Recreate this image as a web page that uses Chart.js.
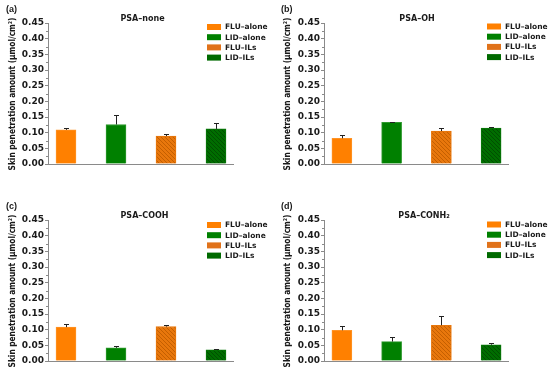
<!DOCTYPE html>
<html>
<head>
<meta charset="utf-8">
<script src="https://cdn.jsdelivr.net/npm/chart.js@4.4.1/dist/chart.umd.min.js"></script>
<style>
  html, body { margin: 0; padding: 0; background: #fff; }
  #wrap { position: relative; width: 550px; height: 373px; overflow: hidden; }
  .panel { position: absolute; width: 275px; height: 176px; }
</style>
</head>
<body>
<div id="wrap">
  <div class="panel" style="left:0;top:0"><canvas id="c0" width="275" height="176"></canvas></div>
  <div class="panel" style="left:275px;top:0"><canvas id="c1" width="275" height="176"></canvas></div>
  <div class="panel" style="left:0;top:197px"><canvas id="c2" width="275" height="176"></canvas></div>
  <div class="panel" style="left:275px;top:197px"><canvas id="c3" width="275" height="176"></canvas></div>
</div>
<script>
const categories = ['FLU–alone', 'LID–alone', 'FLU–ILs', 'LID–ILs'];
const panelTags = ['(a)', '(b)', '(c)', '(d)'];
const panelTitles = ['PSA–none', 'PSA–OH', 'PSA–COOH', 'PSA–CONH₂'];
const yTitle = 'Skin penetration amount (μmol/cm²)';

// mean values, one array per panel
const psaNone = [0.109, 0.126, 0.089, 0.112];
const psaOH = [0.082, 0.133, 0.105, 0.115];
const psaCOOH = [0.108, 0.042, 0.110, 0.036];
const psaCONH2 = [0.098, 0.062, 0.114, 0.052];

// upper error bars
const errNone = [0.007, 0.030, 0.006, 0.019];
const errOH = [0.010, 0.002, 0.009, 0.003];
const errCOOH = [0.011, 0.005, 0.004, 0.003];
const errCONH2 = [0.014, 0.016, 0.031, 0.007];

const yTicks = [0, 0.05, 0.10, 0.15, 0.20, 0.25, 0.30, 0.35, 0.40, 0.45];

const panelValues = [psaNone, psaOH, psaCOOH, psaCONH2];
const panelErrors = [errNone, errOH, errCOOH, errCONH2];

const FONT = "'DejaVu Sans', sans-serif";
const TXT = '#1a1a1a';
const AXIS = '#8a8a8a';

function hatch(base, line) {
  const c = document.createElement('canvas');
  c.width = 4; c.height = 4;
  const g = c.getContext('2d');
  g.fillStyle = base;
  g.fillRect(0, 0, 4, 4);
  g.strokeStyle = line;
  g.lineWidth = 1;
  g.beginPath();
  g.moveTo(-1, -1); g.lineTo(5, 5);
  g.moveTo(3, -1); g.lineTo(5, 1);
  g.moveTo(-1, 3); g.lineTo(1, 5);
  g.stroke();
  return g.createPattern(c, 'repeat');
}

const barFills = ['#ff8000', '#008000', hatch('#e8770c', '#c45f00'), hatch('#006d00', '#004f00')];
const barBorders = ['#ff9326', '#2f9a2f', '#e8770c', '#0a7a0a'];
const legendColors = ['#ff8000', '#008000', '#e0721a', '#006a00'];

// titles, tags, minor ticks, error bars and legend
const panelExtras = {
  id: 'panelExtras',
  afterDatasetsDraw(chart, args, opts) {
    const ctx = chart.ctx;
    const y = chart.scales.y;
    const meta = chart.getDatasetMeta(0);
    ctx.save();
    ctx.strokeStyle = '#222';
    ctx.lineWidth = 1;
    meta.data.forEach((bar, i) => {
      const v = opts.values[i];
      const e = opts.errors[i];
      const x = Math.round(bar.x) + 0.5;
      const y0 = y.getPixelForValue(v);
      const y1 = Math.round(y.getPixelForValue(v + e)) + 0.5;
      ctx.beginPath();
      ctx.moveTo(x, y0);
      ctx.lineTo(x, y1);
      ctx.moveTo(x - 2.5, y1);
      ctx.lineTo(x + 2.5, y1);
      ctx.stroke();
    });
    ctx.restore();
  },
  afterDraw(chart, args, opts) {
    const ctx = chart.ctx;
    const area = chart.chartArea;
    const y = chart.scales.y;
    ctx.save();
    // minor ticks
    ctx.strokeStyle = AXIS;
    ctx.lineWidth = 1;
    for (let k = 0; k < yTicks.length - 1; k++) {
      const py = Math.round(y.getPixelForValue((yTicks[k] + yTicks[k + 1]) / 2)) + 0.5;
      ctx.beginPath();
      ctx.moveTo(area.left - 2, py);
      ctx.lineTo(area.left, py);
      ctx.stroke();
    }
    ctx.fillStyle = TXT;
    // y axis title (glyphs a bit taller, like the stretched original)
    ctx.save();
    ctx.translate(13, 94);
    ctx.rotate(-Math.PI / 2);
    ctx.scale(1, 1.25);
    let fs = 8;
    ctx.font = 'bold ' + fs + 'px ' + FONT;
    const w = ctx.measureText(yTitle).width;
    if (w > 153) { fs = fs * 153 / w; ctx.font = 'bold ' + fs.toFixed(2) + 'px ' + FONT; }
    ctx.textAlign = 'center';
    ctx.textBaseline = 'middle';
    ctx.fillText(yTitle, 0, 0);
    ctx.restore();
    // panel tag
    ctx.font = "bold 9px 'Liberation Sans', sans-serif";
    ctx.textAlign = 'left';
    ctx.textBaseline = 'middle';
    ctx.fillText(opts.tag, 6, 10);
    // title
    ctx.font = 'bold 8px ' + FONT;
    ctx.textAlign = 'center';
    ctx.fillText(opts.title, (area.left + area.right) / 2 + opts.titleShift, area.top - 4);
    // legend
    ctx.font = 'bold 7.5px ' + FONT;
    ctx.textAlign = 'left';
    categories.forEach((name, i) => {
      const cy = opts.legendY + i * 10.2;
      ctx.fillStyle = legendColors[i];
      ctx.fillRect(opts.legendX, cy - 3, 14, 6);
      ctx.fillStyle = TXT;
      ctx.fillText(name, opts.legendX + 18, cy + 0.5);
    });
    ctx.restore();
  }
};

const layouts = [
  { left: 48, legendX: 207, legendY: 27, titleShift: 2 },
  { left: 49, legendX: 212, legendY: 26.5, titleShift: 1 },
  { left: 48, legendX: 207, legendY: 28, titleShift: 4 },
  { left: 49, legendX: 212, legendY: 27.5, titleShift: 8 }
];

panelValues.forEach((vals, p) => {
  const L = layouts[p];
  const ctx = document.getElementById('c' + p).getContext('2d');
  new Chart(ctx, {
    type: 'bar',
    data: {
      datasets: [{
        data: vals.map((v, i) => ({ x: i + 1, y: v })),
        backgroundColor: barFills,
        borderColor: barBorders,
        borderWidth: 1,
        borderSkipped: 'bottom',
        barThickness: 20
      }]
    },
    options: {
      responsive: false,
      animation: false,
      events: [],
      layout: { padding: { top: 23, right: 275 - 233, bottom: 12, left: 0 } },
      plugins: {
        legend: { display: false },
        tooltip: { enabled: false },
        panelExtras: {
          tag: panelTags[p],
          title: panelTitles[p],
          values: vals,
          errors: panelErrors[p],
          legendX: L.legendX,
          legendY: L.legendY,
          titleShift: L.titleShift
        }
      },
      scales: {
        x: {
          type: 'linear',
          offset: false,
          min: 0.64,
          max: 4.34,
          ticks: { display: false },
          grid: { display: false, offset: false },
          border: { display: true, color: AXIS, width: 1 },
          afterFit(scale) { scale.height = 0; }
        },
        y: {
          min: 0,
          max: 0.45,
          afterBuildTicks(scale) { scale.ticks = yTicks.map(v => ({ value: v })); },
          ticks: {
            padding: 1,
            color: TXT,
            font: { family: FONT, size: 9, weight: 'bold' },
            callback: v => v.toFixed(2)
          },
          grid: { drawOnChartArea: false, drawTicks: true, tickLength: 3, color: AXIS },
          border: { display: true, color: AXIS, width: 1 },
          title: { display: false },
          afterFit(scale) { scale.width = L.left; }
        }
      }
    },
    plugins: [panelExtras]
  });
});
</script>
</body>
</html>
